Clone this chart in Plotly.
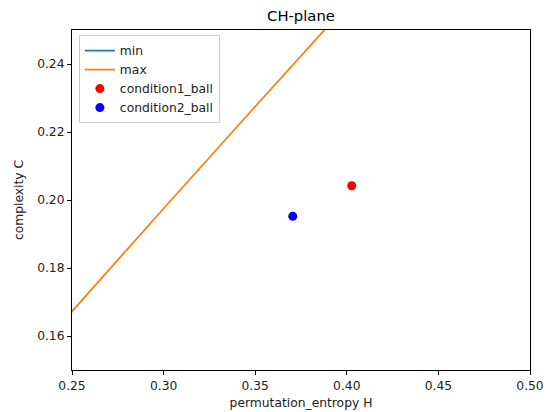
import plotly.graph_objects as go

# data
max_H = [0.20, 0.25, 0.30, 0.35, 0.40, 0.45]
max_C = [0.137, 0.1674, 0.1975, 0.2275, 0.2575, 0.287]
min_H = [0.20, 0.25, 0.30, 0.35, 0.40, 0.45, 0.50]
min_C = [0.080, 0.095, 0.108, 0.119, 0.128, 0.135, 0.140]
cond1_H = [0.4027]
cond1_C = [0.2042]
cond2_H = [0.3705]
cond2_C = [0.1952]
x_ticks = [0.25, 0.30, 0.35, 0.40, 0.45, 0.50]
y_ticks = [0.16, 0.18, 0.20, 0.22, 0.24]

fig = go.Figure()
fig.add_trace(go.Scatter(x=min_H, y=min_C, mode="lines", name="min",
                         line=dict(color="#1f77b4", width=1.8)))
fig.add_trace(go.Scatter(x=max_H, y=max_C, mode="lines", name="max",
                         line=dict(color="#ff7f0e", width=1.8)))
fig.add_trace(go.Scatter(x=cond1_H, y=cond1_C, mode="markers", name="condition1_ball",
                         marker=dict(color="red", size=9)))
fig.add_trace(go.Scatter(x=cond2_H, y=cond2_C, mode="markers", name="condition2_ball",
                         marker=dict(color="blue", size=9)))

FS = 12.3
axis_common = dict(showline=True, linecolor="black", linewidth=1, mirror=True,
                   ticks="outside", ticklen=4, tickcolor="black", showgrid=False,
                   zeroline=False, automargin=False, tickfont=dict(size=FS, color="#222"))
fig.update_xaxes(range=[0.25, 0.50], tickvals=x_ticks,
                 ticktext=[f"{v:.2f}" for v in x_ticks],
                 title=dict(text="permutation_entropy H", font=dict(size=FS, color="#222"), standoff=6),
                 **axis_common)
fig.update_yaxes(range=[0.15, 0.25], tickvals=y_ticks,
                 ticktext=[f"{v:.2f}" for v in y_ticks],
                 title=dict(text="complexity C", font=dict(size=FS, color="#222"), standoff=10),
                 **axis_common)

W, H = 544, 404
fig.update_layout(
    width=W, height=H,
    margin=dict(l=64, r=22, t=22, b=42),
    paper_bgcolor="white", plot_bgcolor="white",
    font=dict(family="DejaVu Sans", size=FS, color="#222"),
    title=dict(text="CH-plane", x=0.5, xanchor="center", xref="paper",
               y=1 - 7.5 / H, yanchor="middle", font=dict(size=14.8, color="black")),
    legend=dict(x=0.015, y=0.985, xanchor="left", yanchor="top",
                bgcolor="rgba(255,255,255,0.8)", bordercolor="#cccccc", borderwidth=1,
                font=dict(size=FS), tracegroupgap=0, itemwidth=30),
    showlegend=True,
)

fig.write_html("out.html")
